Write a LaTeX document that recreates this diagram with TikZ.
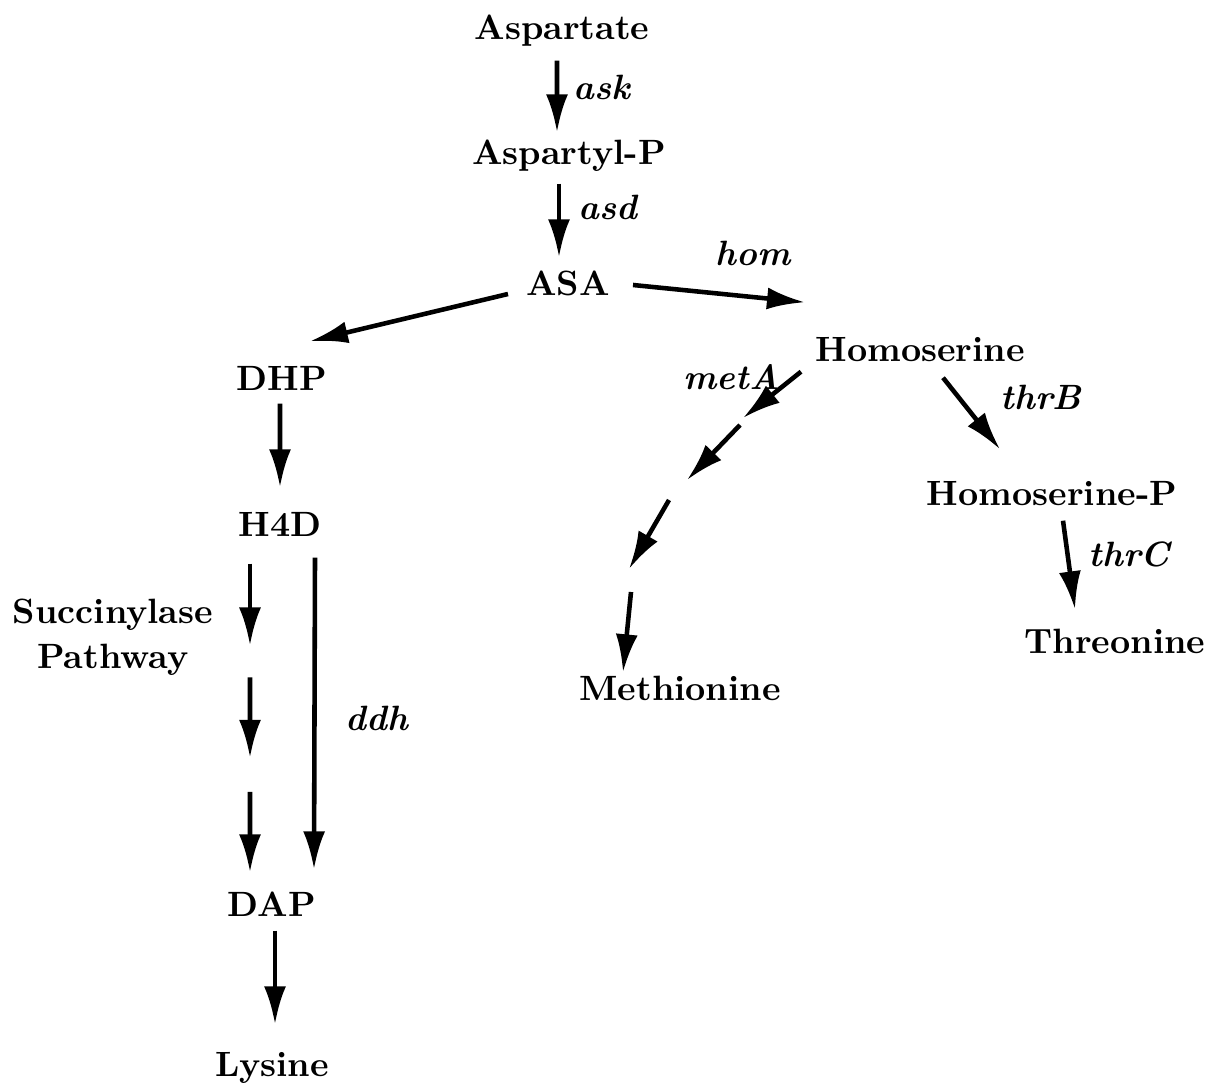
\documentclass[tikz,border=0pt]{standalone}
\usepackage{tikz}
\usetikzlibrary{arrows.meta, calc, positioning}
\tikzstyle{arrow} = [line width=1.3pt,-{Latex[length=3.8mm,width=2.2mm]}]
\tikzstyle{metab} = [font=\fontsize{10}{12}\selectfont\bfseries, inner sep=0pt, text height=0.23cm, text depth=0.07cm, anchor=base]
\tikzstyle{enzyme} = [font=\fontsize{10}{12}\selectfont\bfseries\itshape, inner sep=0pt, anchor=base west]

\begin{document}
\begin{tikzpicture}
        \useasboundingbox (0,0) rectangle (12.13,-10.89);
        % metabolites
        \node[metab] (Aspartate) at (5.62,-0.40) {Aspartate};
        \node[metab] (AspartylP) at (5.69,-1.65) {Aspartyl-P};
        \node[metab] (ASA) at (5.68,-2.96) {ASA};
        \node[metab] (DHP) at (2.82,-3.91) {DHP};
        \node[metab] (H4D) at (2.80,-5.36) {H4D};
        \node[metab] (DAP) at (2.72,-9.16) {DAP};
        \node[metab] (Lysine) at (2.72,-10.76) {Lysine};
        \node[metab] (Homoserine) at (9.20,-3.62) {Homoserine};
        \node[metab] (HomoserineP) at (10.52,-5.06) {Homoserine-P};
        \node[metab] (Threonine) at (11.15,-6.53) {Threonine};
        \node[metab] (Methionine) at (6.80,-7.00) {Methionine};
        \node[font=\fontsize{10}{13}\selectfont\bfseries, align=center, inner sep=0pt, anchor=north] (Succinylase) at (1.13,-5.98) {Succinylase\\Pathway};

        % enzymes
        \node[enzyme] (ask) at (5.73,-1.00) {ask};
        \node[enzyme] (asd) at (5.78,-2.20) {asd};
        \node[enzyme] (hom) at (7.15,-2.66) {hom};
        \node[enzyme] (metA) at (6.83,-3.90) {metA};
        \node[enzyme] (thrB) at (10.00,-4.10) {thrB};
        \node[enzyme] (thrC) at (10.88,-5.66) {thrC};
        \node[enzyme] (ddh) at (3.45,-7.30) {ddh};

        % breaks in the dashed routes
        \coordinate (succTop) at ($(H4D.south)+(-0.30,-0.20)$);
        \coordinate (succBot) at ($(DAP.north)+(-0.22,0.20)$);
        \coordinate (metB) at (7.43,-4.18);
        \coordinate (metC) at (7.40,-4.25);
        \coordinate (metD) at (6.87,-4.80);
        \coordinate (metE) at (6.69,-5.00);
        \coordinate (metF) at (6.29,-5.69);
        \coordinate (metG) at (6.31,-5.92);

        \draw[arrow] ($(Aspartate.south)+(-0.05,-0.13)$) -- ($(AspartylP.north)+(-0.12,0.09)$);
        \draw[arrow] ($(AspartylP.south)+(-0.10,-0.11)$) -- ($(ASA.north)+(-0.09,0.15)$);
        \draw[arrow] ($(ASA.center)+(0.65,0.03)$) -- ($(Homoserine.north)+(-1.15,0.36)$);
        \draw[arrow] ($(ASA.center)+(-0.60,-0.06)$) -- ($(DHP.north)+(0.28,0.26)$);
        \draw[arrow] ($(DHP.south)+(-0.02,-0.05)$) -- ($(H4D.north)+(0,0.25)$);
        \foreach \s/\e in {0/0.265, 0.368/0.629, 0.739/1}
            \draw[arrow] ($(succTop)!\s!(succBot)$) -- ($(succTop)!\e!(succBot)$);
        \draw[arrow] ($(H4D.south)+(0.35,-0.14)$) -- ($(DAP.north)+(0.42,0.23)$);
        \draw[arrow] ($(DAP.south)+(0.03,-0.07)$) -- ($(Lysine.north)+(0.03,0.28)$);
        \draw[arrow] ($(Homoserine.south)+(-1.19,-0.02)$) -- (metB);
        \draw[arrow] (metC) -- (metD);
        \draw[arrow] (metE) -- (metF);
        \draw[arrow] (metG) -- ($(Methionine.north)+(-0.57,0.04)$);
        \draw[arrow] ($(Homoserine.south)+(0.23,-0.08)$) -- ($(HomoserineP.north)+(-0.52,0.33)$);
        \draw[arrow] ($(HomoserineP.south)+(0.11,-0.07)$) -- ($(Threonine.north)+(-0.40,0.20)$);
\end{tikzpicture}
\end{document}
